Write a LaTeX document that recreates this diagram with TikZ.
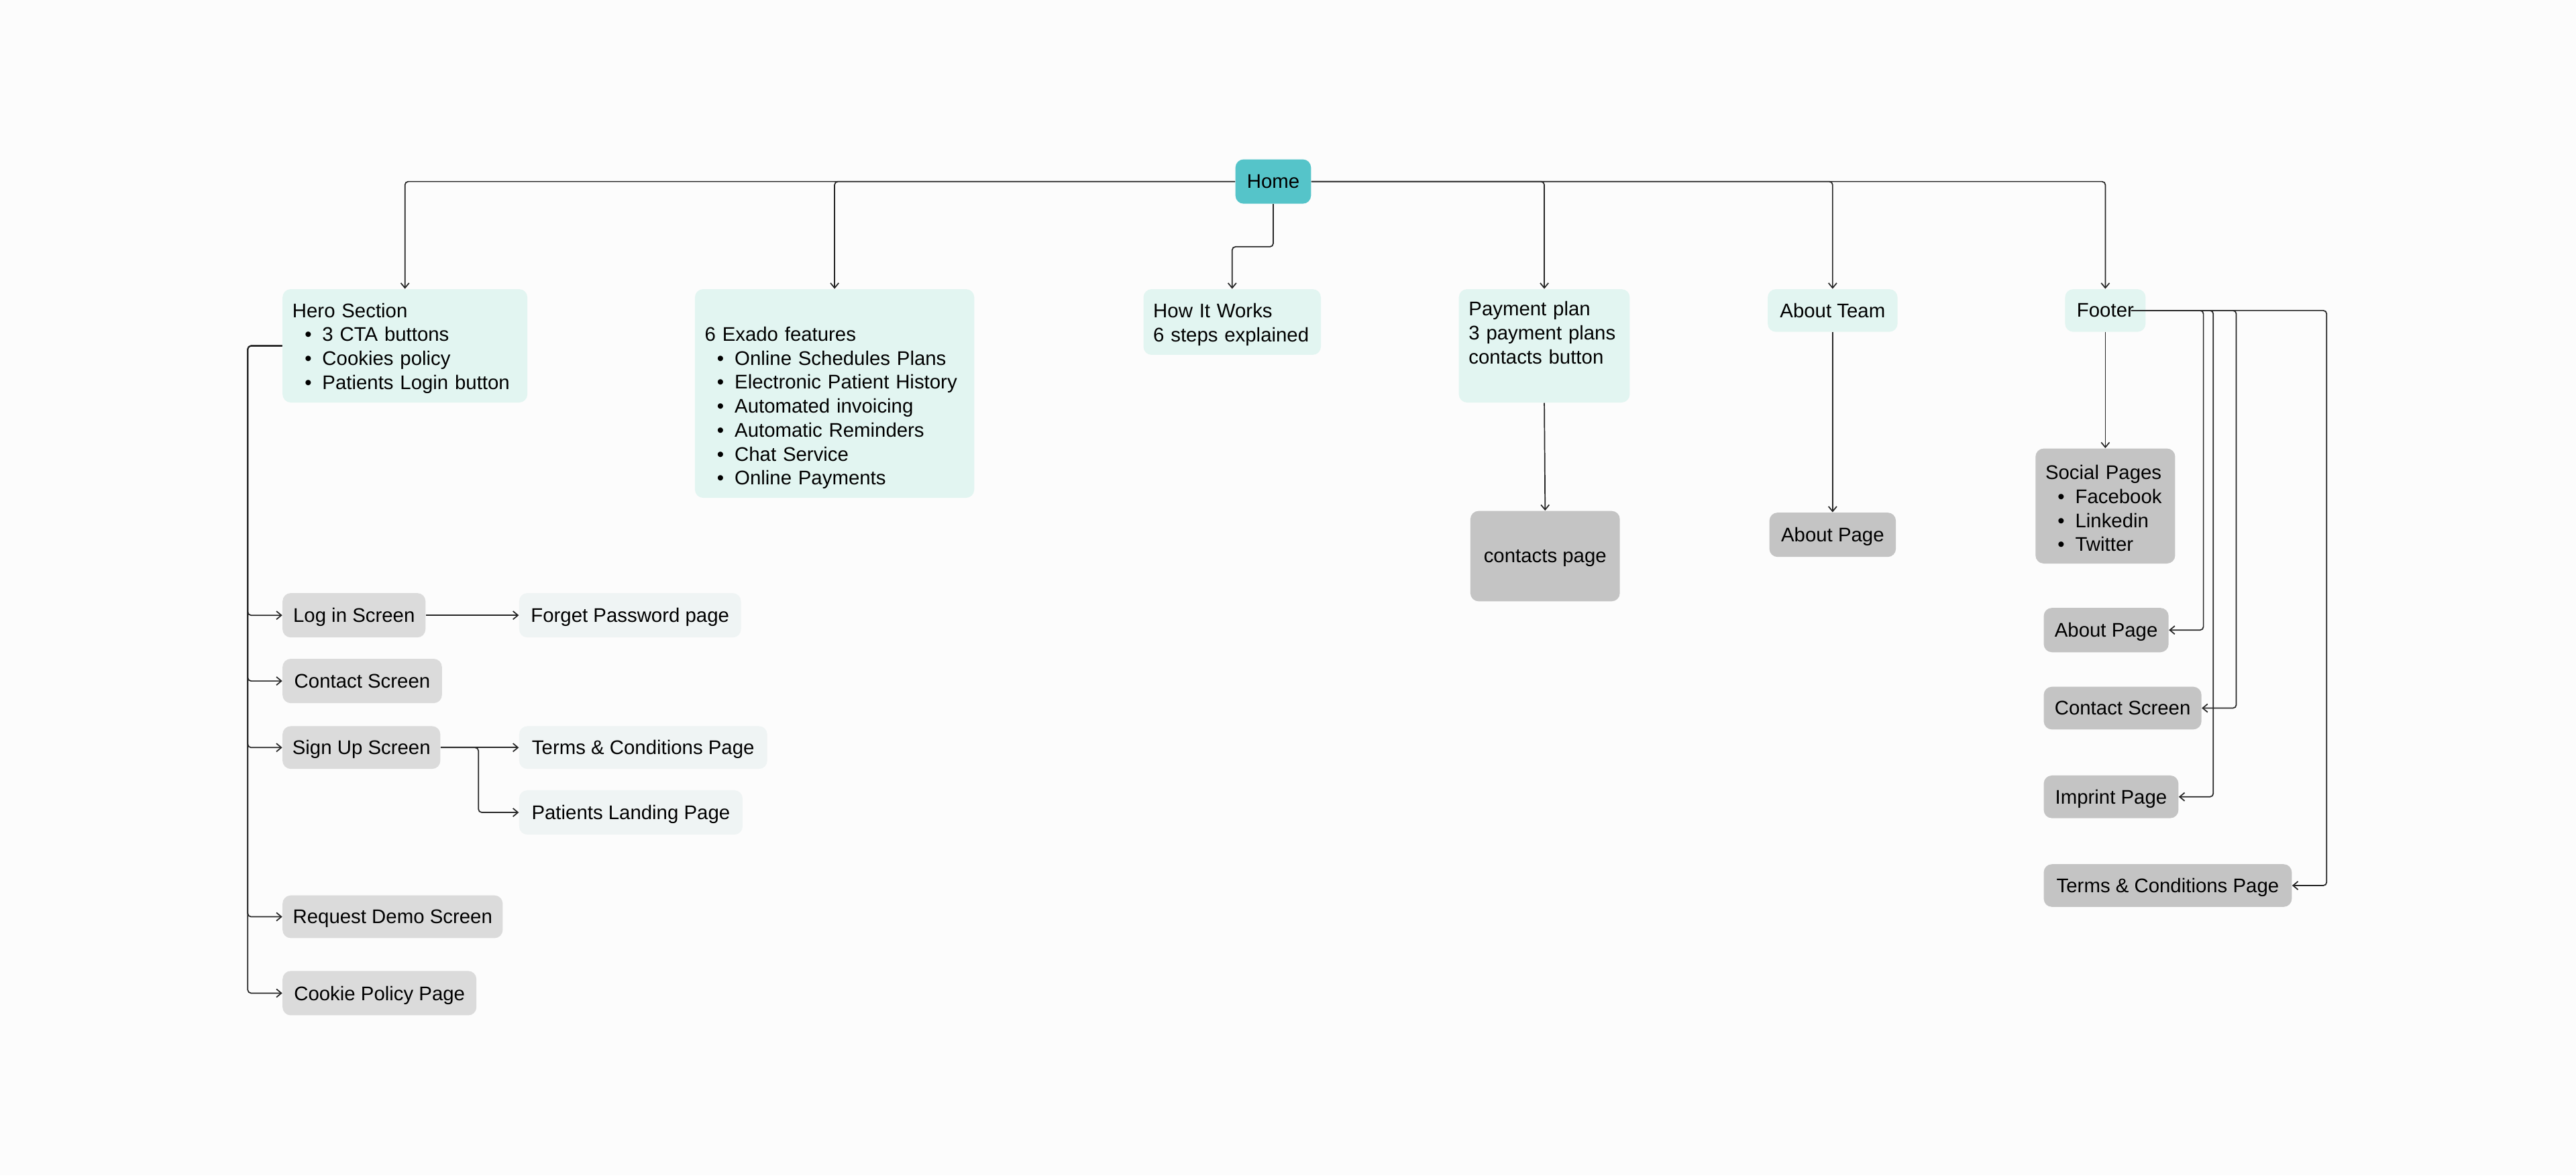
\documentclass[tikz,border=0pt]{standalone}
\usepackage{fontspec}
\setmainfont{Liberation Sans}
\usetikzlibrary{arrows.meta}

\definecolor{hometeal}{HTML}{55C4C9}
\definecolor{mint}{HTML}{E2F5F1}
\definecolor{darkgrey}{HTML}{C4C4C4}
\definecolor{lightgrey}{HTML}{DBDBDB}
\definecolor{palegrey}{HTML}{EFF4F4}
\definecolor{bgcol}{HTML}{FCFCFC}

\newcommand{\bul}[1]{\hspace*{7.5pt}\textbullet\hspace*{6.5pt}#1}

\begin{document}
\begin{tikzpicture}[x=1pt,y=-1pt,
    box/.style={rounded corners=5pt, inner xsep=6pt, inner ysep=0pt,
      font=\fontsize{12}{14.6}\selectfont, text=black, text depth=0pt},
    multi/.style={box, text depth={}, align=left, text width=#1,
      execute at begin node={\rule{0pt}{11.6pt}}},
    link/.style={draw=black!85, line width=0.7pt, rounded corners=2pt,
      -{Straight Barb[length=3pt,width=5pt]}}]
      % Page size and background
      \fill[bgcol] (0,0) rectangle (1568,715.4);
      \useasboundingbox (0,0) rectangle (1568,715.4);

      % Draw the home node and the main sections
      \node[box, fill=hometeal, minimum width=46pt, minimum height=27pt] (home) at (775,110.5) {Home};
      \node[multi=137pt, fill=mint, minimum height=69pt] (hero) at (246.5,210.5)
        {Hero Section\\\bul{3 CTA buttons}\\\bul{Cookies policy}\\\bul{Patients Login button}};
      \node[multi=158pt, fill=mint, minimum height=127pt] (feat) at (508,239.5)
        {\strut\\6 Exado features\\\bul{Online Schedules Plans}\\\bul{Electronic Patient History}\\\bul{Automated invoicing}\\\bul{Automatic Reminders}\\\bul{Chat Service}\\\bul{Online Payments}};
      \node[multi=96pt, fill=mint, minimum height=40pt] (how) at (750,196)
        {How It Works\\6 steps explained};
      \node[multi=92pt, fill=mint, minimum height=69pt] (pay) at (940,210.5)
        {Payment plan\\3 payment plans\\contacts button\\\strut};
      \node[box, fill=mint, minimum width=79pt, minimum height=26pt] (team) at (1115.5,189) {About Team};
      \node[box, fill=mint, minimum width=49pt, minimum height=26pt] (footer) at (1281.5,189) {Footer};

      % Draw the pages under payment, team and footer
      \node[box, fill=darkgrey, minimum width=91pt, minimum height=55pt] (cpage) at (940.5,338.5) {contacts page};
      \node[box, fill=darkgrey, minimum width=77pt, minimum height=27pt] (apage) at (1115.5,325.5) {About Page};
      \node[multi=73pt, fill=darkgrey, minimum height=70pt] (social) at (1281.5,308)
        {Social Pages\\\bul{Facebook}\\\bul{Linkedin}\\\bul{Twitter}};
      \node[box, fill=darkgrey, minimum width=76pt, minimum height=27pt] (fabout) at (1282,383.5) {About Page};
      \node[box, fill=darkgrey, minimum width=96pt, minimum height=26pt] (fcontact) at (1292,431) {Contact Screen};
      \node[box, fill=darkgrey, minimum width=82pt, minimum height=26pt] (fimprint) at (1285,485) {Imprint Page};
      \node[box, fill=darkgrey, minimum width=151pt, minimum height=26pt] (fterms) at (1319.5,539) {Terms \& Conditions Page};

      % Draw the screens under the hero section
      \node[box, fill=lightgrey, minimum width=87pt, minimum height=27pt] (login) at (215.5,374.5) {Log in Screen};
      \node[box, fill=palegrey, minimum width=135pt, minimum height=27pt] (forget) at (383.5,374.5) {Forget Password page};
      \node[box, fill=lightgrey, minimum width=97pt, minimum height=27pt] (contact) at (220.5,414.5) {Contact Screen};
      \node[box, fill=lightgrey, minimum width=96pt, minimum height=26pt] (signup) at (220,455) {Sign Up Screen};
      \node[box, fill=palegrey, minimum width=151pt, minimum height=26pt] (tcpage) at (391.5,455) {Terms \& Conditions Page};
      \node[box, fill=palegrey, minimum width=136pt, minimum height=27pt] (landing) at (384,494.5) {Patients Landing Page};
      \node[box, fill=lightgrey, minimum width=134pt, minimum height=26pt] (demo) at (239,558) {Request Demo Screen};
      \node[box, fill=lightgrey, minimum width=118pt, minimum height=27pt] (cookie) at (231,604.5) {Cookie Policy Page};

      % Connect home to the sections
      \draw[link] (home.west) -| (hero.north);
      \draw[link] (home.west) -| (feat.north);
      \draw[link] (home.east) -| (pay.north);
      \draw[link] (home.east) -| (team.north);
      \draw[link] (home.east) -| (footer.north);
      \draw[link] (home.south) -- ++(0,26) -| (how.north);

      % Connect the sections to their pages
      \draw[link] (pay.south) -- (cpage.north);
      \draw[link] (team.south) -- (apage.north);
      \draw[link] (footer.south) -- (social.north);
      \coordinate (fstart) at ([xshift=-9pt]footer.east);
      \foreach \n in {fabout,fcontact,fimprint,fterms}
        \draw[link] (fstart) -| ([xshift=21pt]\n.east) -- (\n.east);

      % Connect the hero section to its screens
      \coordinate (herobus) at ([xshift=-21pt]hero.west);
      \foreach \n in {login,contact,signup,demo,cookie}
        \draw[link] (hero.west) -- (herobus) |- (\n.west);
      \draw[link] (login.east) -- (forget.west);
      \draw[link] (signup.east) -- (tcpage.west);
      \draw[link] (signup.east) -- ++(23,0) |- (landing.west);
  \end{tikzpicture}
\end{document}
